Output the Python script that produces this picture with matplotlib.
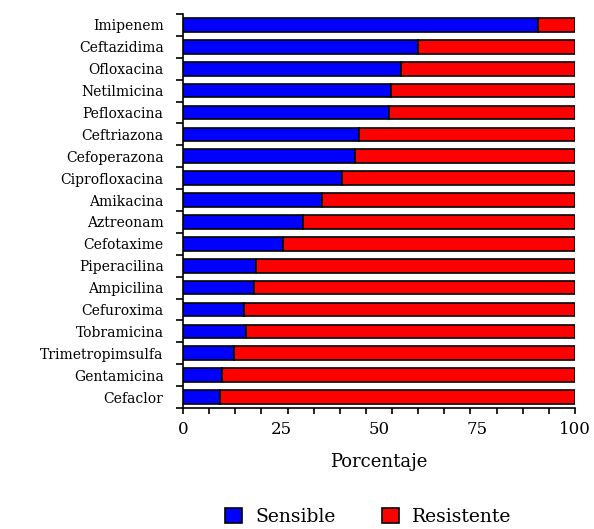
import numpy as np
import matplotlib
matplotlib.use("Agg")
import matplotlib.pyplot as plt

categories = ["Imipenem", "Ceftazidima", "Ofloxacina", "Netilmicina", "Pefloxacina",
              "Ceftriazona", "Cefoperazona", "Ciprofloxacina", "Amikacina", "Aztreonam",
              "Cefotaxime", "Piperacilina", "Ampicilina", "Cefuroxima", "Tobramicina",
              "Trimetropimsulfa", "Gentamicina", "Cefaclor"]
sensible = [90.5, 60, 55.5, 53, 52.5, 45, 44, 40.5, 35.5, 30.5, 25.5, 18.5, 18, 15.5, 16, 13, 10, 9.5]
resistente = [100 - s for s in sensible]
xtick_labels = [0, 25, 50, 75, 100]

plt.rcParams['font.family'] = ['DejaVu Serif']

fig = plt.figure(figsize=(5.94, 5.29), dpi=100)
ax = fig.add_axes([183/594, 1 - 408/529, 392/594, 394/529])

y = np.arange(len(categories))
h = 0.62
ax.barh(y, sensible, height=h, color='#0000ff', edgecolor='black', linewidth=1.2, label='Sensible')
ax.barh(y, resistente, left=sensible, height=h, color='#ff0000', edgecolor='black', linewidth=1.2, label='Resistente')

ax.set_ylim(len(categories) - 0.5, -0.5)
ax.set_xlim(0, 100)

# y: boundary ticks, labels at centers
ax.set_yticks(np.arange(len(categories) + 1) - 0.5)
ax.set_yticklabels([])
ax.tick_params(axis='y', which='major', length=5, width=1.2, direction='out')
ax.set_yticks(y, minor=True)
ax.set_yticklabels(categories, minor=True, fontsize=10)
ax.tick_params(axis='y', which='minor', length=0, pad=14)

# x: labels at 0,25,... (major, no mark); marks every 1/15 (minor)
ax.xaxis.remove_overlapping_locs = False
ax.set_xticks(xtick_labels)
ax.set_xticklabels([str(v) for v in xtick_labels], fontsize=12)
ax.tick_params(axis='x', which='major', length=0, pad=9)
ax.set_xticks(np.linspace(0, 100, 16), minor=True)
ax.tick_params(axis='x', which='minor', length=4, width=1.2, direction='out')

ax.set_xlabel('Porcentaje', fontsize=13, labelpad=11)

for s in ['top', 'right']:
    ax.spines[s].set_visible(False)
for s in ['left', 'bottom']:
    ax.spines[s].set_linewidth(1.2)

fig.legend(loc='center', bbox_to_anchor=(0.62, 0.023), ncol=2, frameon=False,
           fontsize=13.5, handlelength=0.9, handleheight=0.9, columnspacing=2.5, handletextpad=0.7)

fig.savefig('out.png', dpi=100)
